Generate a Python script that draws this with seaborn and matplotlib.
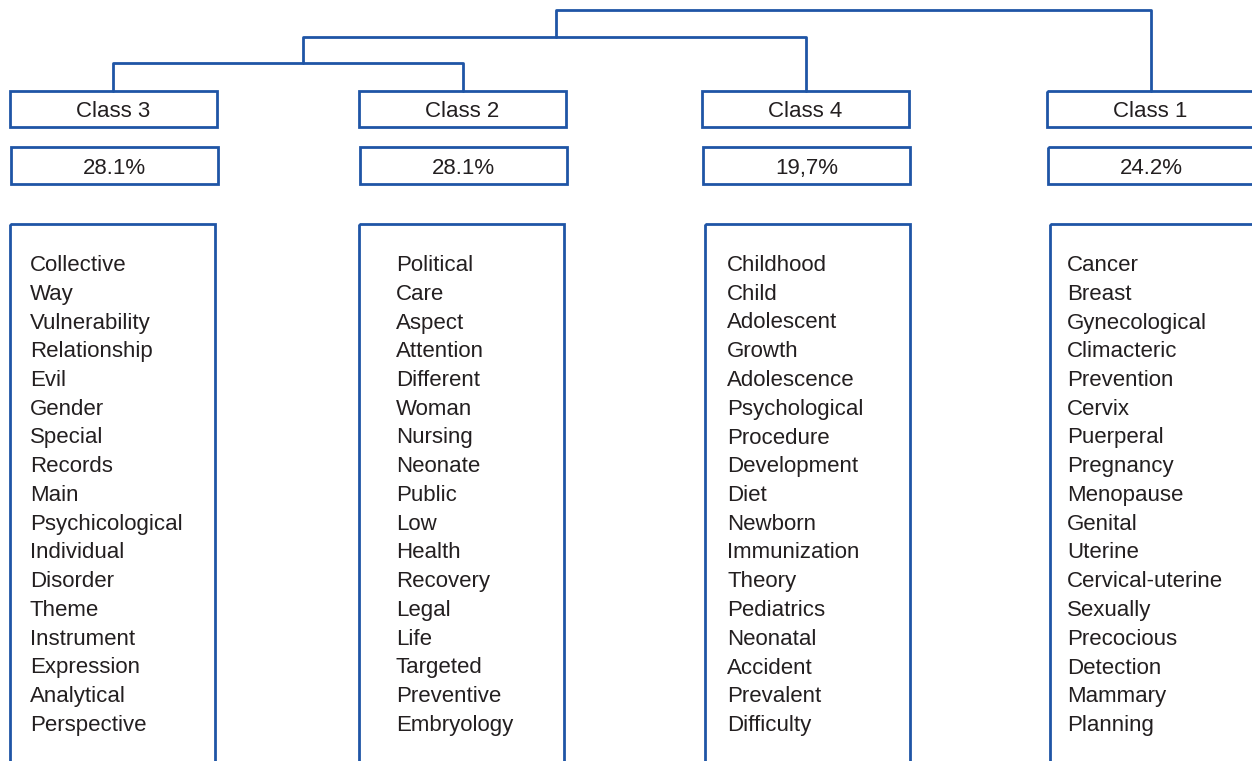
import matplotlib
matplotlib.use('Agg')
import matplotlib.pyplot as plt
from matplotlib.patches import Rectangle
import pandas as pd
import seaborn as sns

# data
classes = ['Class 3', 'Class 2', 'Class 4', 'Class 1']
percents = ['28.1%', '28.1%', '19,7%', '24.2%']
words = [
    ['Collective', 'Way', 'Vulnerability', 'Relationship', 'Evil', 'Gender',
     'Special', 'Records', 'Main', 'Psychicological', 'Individual', 'Disorder',
     'Theme', 'Instrument', 'Expression', 'Analytical', 'Perspective'],
    ['Political', 'Care', 'Aspect', 'Attention', 'Different', 'Woman',
     'Nursing', 'Neonate', 'Public', 'Low', 'Health', 'Recovery', 'Legal',
     'Life', 'Targeted', 'Preventive', 'Embryology'],
    ['Childhood', 'Child', 'Adolescent', 'Growth', 'Adolescence',
     'Psychological', 'Procedure', 'Development', 'Diet', 'Newborn',
     'Immunization', 'Theory', 'Pediatrics', 'Neonatal', 'Accident',
     'Prevalent', 'Difficulty'],
    ['Cancer', 'Breast', 'Gynecological', 'Climacteric', 'Prevention',
     'Cervix', 'Puerperal', 'Pregnancy', 'Menopause', 'Genital', 'Uterine',
     'Cervical-uterine', 'Sexually', 'Precocious', 'Detection', 'Mammary',
     'Planning'],
]

# layout (pixels)
label_left = [10, 359, 702, 1047]
pct_left = [11, 360, 703, 1048]
word_left = [10, 359, 705, 1050]
word_text_x = [30, 396, 727, 1067]
leaf_x = [113, 463, 806, 1151]

BLUE = '#1f55a6'
TXT = '#231f20'

sns.set_theme(style='white')
plt.rcParams['font.family'] = ['Liberation Sans', 'DejaVu Sans']

fig = plt.figure(figsize=(12.52, 7.61), dpi=100)
ax = fig.add_axes([0, 0, 1, 1])
ax.set_xlim(0, 1252)
ax.set_ylim(761, 0)
ax.axis('off')

# dendrogram links: (3,2) at 63, +4 at 37, +1 at 10
links = [
    (0, [leaf_x[0], leaf_x[0], leaf_x[1], leaf_x[1]], [91, 63, 63, 91]),
    (1, [303, 303, leaf_x[2], leaf_x[2]], [63, 37, 37, 91]),
    (2, [556, 556, leaf_x[3], leaf_x[3]], [37, 10, 10, 91]),
]
rows = []
for uid, xs, ys in links:
    for i, (x, y) in enumerate(zip(xs, ys)):
        rows.append({'link': uid, 'order': i, 'x': x, 'y': y})
df = pd.DataFrame(rows)
sns.lineplot(data=df, x='x', y='y', units='link', estimator=None, sort=False,
             color=BLUE, lw=2, ax=ax)
ax.set_xlim(0, 1252)
ax.set_ylim(761, 0)
ax.axis('off')

for i, name in enumerate(classes):
    ax.add_patch(Rectangle((label_left[i], 91), 207, 36, fill=False,
                           edgecolor=BLUE, lw=2))
    ax.text(label_left[i] + 103.5, 117, name, ha='center', va='baseline',
            fontsize=16, color=TXT)
    ax.add_patch(Rectangle((pct_left[i], 147), 207, 37, fill=False,
                           edgecolor=BLUE, lw=2))
    ax.text(pct_left[i] + 103.5, 174, percents[i], ha='center', va='baseline',
            fontsize=16, color=TXT)
    ax.add_patch(Rectangle((word_left[i], 224), 205, 600, fill=False,
                           edgecolor=BLUE, lw=2))
    for j, w in enumerate(words[i]):
        ax.text(word_text_x[i], 271 + j * 28.75, w, ha='left', va='baseline',
                fontsize=16, color=TXT)

fig.savefig('out.png', dpi=100)
